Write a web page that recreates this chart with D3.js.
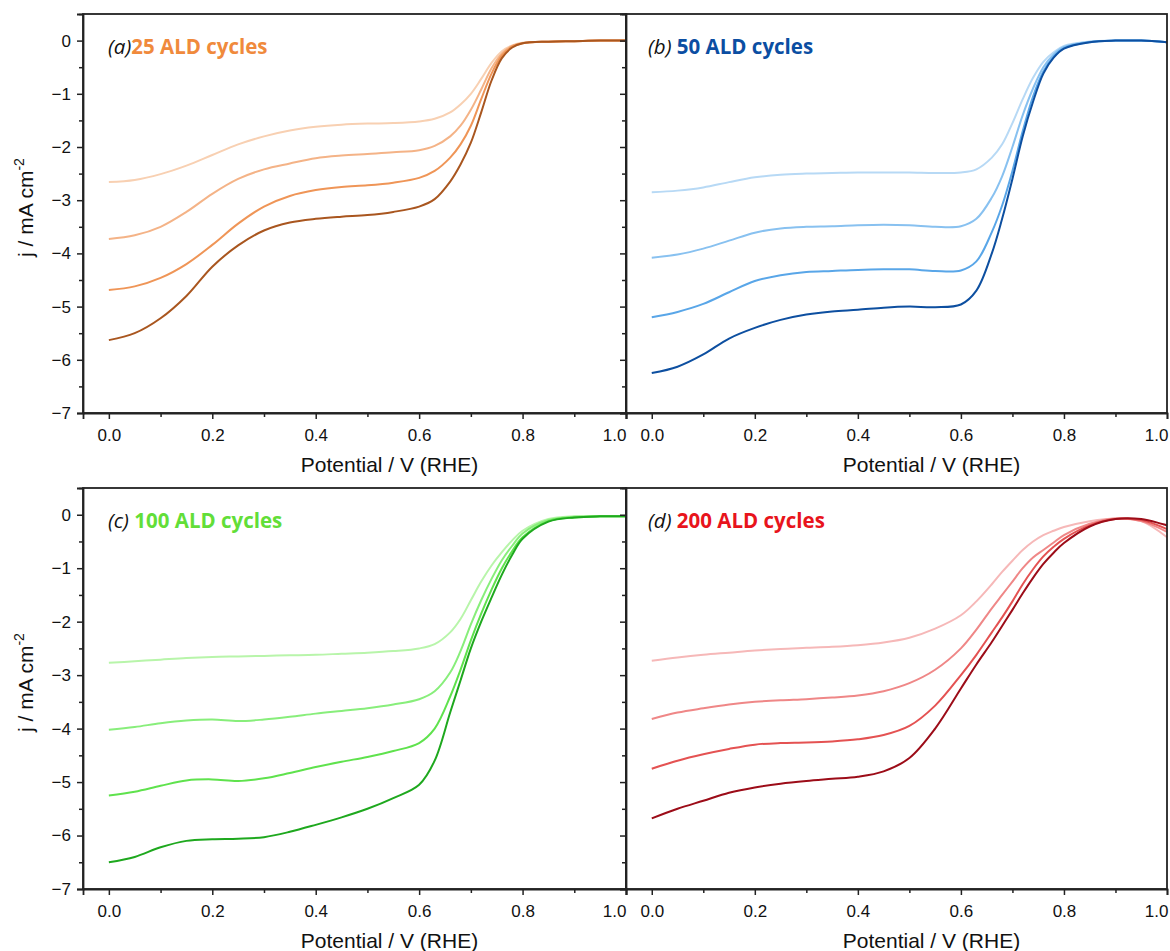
<!DOCTYPE html>
<html>
<head>
<meta charset="utf-8">
<script src="https://d3js.org/d3.v7.min.js"></script>
<style>
  body { margin: 0; background: #fff; }
  text { font-family: "Liberation Sans", Arial, sans-serif; }
  .lbl { font-family: "Open Sans", "Noto Sans", sans-serif; font-size: 20.5px; }
</style>
</head>
<body>
<script>
// potential (V vs RHE) sample points shared by all curves
var potential = [0, 0.05, 0.1, 0.15, 0.2, 0.25, 0.3, 0.35, 0.4, 0.45, 0.5, 0.55, 0.6, 0.63, 0.66, 0.68, 0.7, 0.72, 0.74, 0.76, 0.78, 0.8, 0.85, 0.9, 0.95, 1.0];

// (a) 25 ALD cycles
var s25_1 = [-2.66,-2.62,-2.51,-2.35,-2.15,-1.95,-1.8,-1.69,-1.62,-1.58,-1.56,-1.55,-1.52,-1.47,-1.35,-1.2,-1.0,-0.72,-0.42,-0.2,-0.09,-0.04,-0.02,-0.01,0,0];
var s25_2 = [-3.73,-3.66,-3.5,-3.22,-2.88,-2.6,-2.42,-2.31,-2.21,-2.16,-2.13,-2.1,-2.06,-1.98,-1.8,-1.6,-1.3,-0.92,-0.52,-0.24,-0.1,-0.05,-0.02,-0.01,0,0];
var s25_3 = [-4.69,-4.62,-4.46,-4.2,-3.84,-3.44,-3.12,-2.92,-2.81,-2.75,-2.72,-2.67,-2.58,-2.45,-2.2,-1.95,-1.6,-1.1,-0.62,-0.28,-0.11,-0.05,-0.02,-0.01,0,0];
var s25_4 = [-5.63,-5.5,-5.22,-4.8,-4.25,-3.85,-3.57,-3.42,-3.35,-3.31,-3.28,-3.22,-3.12,-2.98,-2.65,-2.33,-1.92,-1.35,-0.75,-0.33,-0.13,-0.05,-0.02,-0.01,0,0];

// (b) 50 ALD cycles
var s50_1 = [-2.85,-2.82,-2.76,-2.66,-2.57,-2.52,-2.5,-2.49,-2.48,-2.48,-2.48,-2.49,-2.48,-2.42,-2.2,-1.95,-1.55,-1.1,-0.7,-0.4,-0.22,-0.1,-0.02,0,0,-0.03];
var s50_2 = [-4.08,-4.02,-3.91,-3.76,-3.61,-3.53,-3.5,-3.49,-3.47,-3.46,-3.47,-3.5,-3.49,-3.35,-2.95,-2.55,-2.0,-1.4,-0.9,-0.5,-0.26,-0.12,-0.02,0,0,-0.03];
var s50_3 = [-5.2,-5.1,-4.95,-4.73,-4.52,-4.41,-4.35,-4.33,-4.31,-4.3,-4.3,-4.33,-4.32,-4.15,-3.6,-3.1,-2.45,-1.7,-1.05,-0.58,-0.3,-0.14,-0.03,0,0,-0.03];
var s50_4 = [-6.25,-6.13,-5.9,-5.6,-5.4,-5.25,-5.15,-5.09,-5.06,-5.02,-5.0,-5.01,-4.96,-4.7,-4.0,-3.35,-2.6,-1.8,-1.15,-0.62,-0.32,-0.15,-0.03,0,0,-0.03];

// (c) 100 ALD cycles
var s100_1 = [-2.77,-2.74,-2.71,-2.68,-2.66,-2.65,-2.64,-2.63,-2.62,-2.6,-2.58,-2.55,-2.5,-2.42,-2.2,-1.95,-1.6,-1.25,-0.95,-0.7,-0.48,-0.3,-0.08,-0.03,-0.03,-0.03];
var s100_2 = [-4.02,-3.97,-3.9,-3.85,-3.83,-3.86,-3.83,-3.78,-3.72,-3.67,-3.62,-3.55,-3.45,-3.3,-2.95,-2.55,-2.05,-1.6,-1.2,-0.85,-0.58,-0.35,-0.1,-0.04,-0.03,-0.03];
var s100_3 = [-5.25,-5.18,-5.07,-4.97,-4.95,-4.98,-4.93,-4.83,-4.72,-4.62,-4.53,-4.42,-4.27,-4.0,-3.4,-2.9,-2.35,-1.85,-1.4,-1.0,-0.68,-0.42,-0.12,-0.05,-0.03,-0.03];
var s100_4 = [-6.5,-6.4,-6.22,-6.1,-6.07,-6.06,-6.03,-5.93,-5.8,-5.66,-5.5,-5.3,-5.05,-4.6,-3.7,-3.1,-2.5,-2.0,-1.55,-1.12,-0.75,-0.45,-0.13,-0.05,-0.03,-0.03];

// (d) 200 ALD cycles
var s200_1 = [-2.73,-2.67,-2.62,-2.58,-2.54,-2.51,-2.49,-2.47,-2.44,-2.39,-2.3,-2.13,-1.88,-1.62,-1.3,-1.07,-0.86,-0.66,-0.5,-0.38,-0.3,-0.23,-0.12,-0.07,-0.12,-0.42];
var s200_2 = [-3.82,-3.7,-3.62,-3.55,-3.5,-3.47,-3.45,-3.42,-3.38,-3.3,-3.15,-2.9,-2.5,-2.15,-1.75,-1.5,-1.25,-1.0,-0.8,-0.66,-0.52,-0.38,-0.17,-0.07,-0.12,-0.32];
var s200_3 = [-4.75,-4.6,-4.48,-4.38,-4.3,-4.27,-4.26,-4.24,-4.2,-4.12,-3.95,-3.57,-3.0,-2.62,-2.2,-1.92,-1.62,-1.3,-1.02,-0.78,-0.6,-0.45,-0.2,-0.08,-0.1,-0.27];
var s200_4 = [-5.68,-5.5,-5.35,-5.2,-5.1,-5.03,-4.98,-4.94,-4.9,-4.8,-4.55,-4.0,-3.25,-2.8,-2.38,-2.08,-1.78,-1.47,-1.18,-0.92,-0.71,-0.53,-0.22,-0.08,-0.08,-0.2];

var xTicks = [0, 0.2, 0.4, 0.6, 0.8, 1.0];
var xMinor = [0.1, 0.3, 0.5, 0.7, 0.9];
var yTicks = [0, -1, -2, -3, -4, -5, -6, -7];
var yMinor = [0.5, -0.5, -1.5, -2.5, -3.5, -4.5, -5.5, -6.5];

var panels = [
  {tag: "(a)", title: "25 ALD cycles", sep: "", col: 0, row: 0, series: [s25_1, s25_2, s25_3, s25_4],
   colors: ["#f8d0b2", "#f4b387", "#ef9557", "#a9561f"], titleColor: "#f08a3c"},
  {tag: "(b)", title: "50 ALD cycles", sep: " ", col: 1, row: 0, series: [s50_1, s50_2, s50_3, s50_4],
   colors: ["#b7d9f5", "#88c1f0", "#59a6e8", "#0d4fa0"], titleColor: "#0b4ea2"},
  {tag: "(c)", title: "100 ALD cycles", sep: " ", col: 0, row: 1, series: [s100_1, s100_2, s100_3, s100_4],
   colors: ["#b8f5aa", "#88ee7b", "#5fe24d", "#1ea81e"], titleColor: "#62de38"},
  {tag: "(d)", title: "200 ALD cycles", sep: " ", col: 1, row: 1, series: [s200_1, s200_2, s200_3, s200_4],
   colors: ["#f6b8b8", "#ef8787", "#e45252", "#9c0c18"], titleColor: "#e8141c"}
];

var svg = d3.select("body").append("svg")
  .attr("width", 1170)
  .attr("height", 951);

var colX = [[83, 626], [626, 1167]];
var rowY = [[14, 413], [488, 889]];

panels.forEach(function(p) {
  var x = d3.scaleLinear().domain([-0.05, 1.0]).range(colX[p.col]);
  var y = d3.scaleLinear().domain([-7, 0.5]).range([rowY[p.row][1], rowY[p.row][0]]);
  var g = svg.append("g");

  // curves (lightest first, darkest on top)
  var line = d3.line()
    .x(function(d, i) { return x(potential[i]); })
    .y(function(d) { return y(d); })
    .curve(d3.curveCatmullRom.alpha(0.5));

  p.series.forEach(function(s, i) {
    g.append("path")
      .attr("d", line(s))
      .attr("fill", "none")
      .attr("stroke", p.colors[i])
      .attr("stroke-width", 2);
  });

  // frame
  g.append("rect")
    .attr("x", colX[p.col][0])
    .attr("y", rowY[p.row][0])
    .attr("width", colX[p.col][1] - colX[p.col][0])
    .attr("height", rowY[p.row][1] - rowY[p.row][0])
    .attr("fill", "none")
    .attr("stroke", "#222")
    .attr("stroke-width", 1.8);

  // x axis, major + minor ticks
  var xAxis = g.append("g")
    .attr("transform", "translate(0," + rowY[p.row][1] + ")")
    .call(d3.axisBottom(x).tickValues(xTicks).tickFormat(d3.format(".1f")).tickSize(6).tickPadding(10));
  g.append("g")
    .attr("transform", "translate(0," + rowY[p.row][1] + ")")
    .call(d3.axisBottom(x).tickValues(xMinor).tickFormat("").tickSize(4))
    .select(".domain").remove();

  // the last label sits left of the panel edge, as in the original
  xAxis.selectAll(".tick text")
    .filter(function(d) { return d == 1.0; })
    .attr("text-anchor", "end")
    .attr("x", p.col == 0 ? 0 : 1);

  // y axis, major + minor ticks
  var yAxis = g.append("g")
    .attr("transform", "translate(" + colX[p.col][0] + ",0)")
    .call(d3.axisLeft(y).tickValues(yTicks).tickFormat(p.col == 0 ? d3.format("d") : "").tickSize(6).tickPadding(6));
  g.append("g")
    .attr("transform", "translate(" + colX[p.col][0] + ",0)")
    .call(d3.axisLeft(y).tickValues(yMinor).tickFormat("").tickSize(4))
    .select(".domain").remove();

  [xAxis, yAxis].forEach(function(ax) {
    ax.select(".domain").attr("stroke", "#222").attr("stroke-width", 1.8);
    ax.selectAll(".tick text")
      .attr("font-family", "Liberation Sans, Arial, sans-serif")
      .attr("font-size", 17)
      .attr("fill", "#111");
  });
  g.selectAll(".tick line").attr("stroke", "#222").attr("stroke-width", 1.5);

  // x axis title
  g.append("text")
    .attr("x", (colX[p.col][0] + colX[p.col][1]) / 2 + 35)
    .attr("y", rowY[p.row][1] + 59)
    .attr("text-anchor", "middle")
    .attr("font-size", 21)
    .attr("fill", "#111")
    .text("Potential / V (RHE)");

  // y axis title
  if (p.col == 0) {
    var yt = g.append("text")
      .attr("transform", "translate(33," + ((rowY[p.row][0] + rowY[p.row][1]) / 2 - 6) + ") rotate(-90)")
      .attr("text-anchor", "middle")
      .attr("font-size", 21)
      .attr("fill", "#111");
    yt.append("tspan").text("j / mA cm");
    yt.append("tspan").attr("dy", -9).attr("font-size", 14).text("-2");
  }

  // panel label
  var lab = g.append("text")
    .attr("class", "lbl")
    .attr("x", colX[p.col][0] + (p.col == 0 ? 25 : 22))
    .attr("y", rowY[p.row][0] + 40);
  lab.append("tspan").attr("font-style", "italic").attr("fill", "#111").text(p.tag + p.sep);
  lab.append("tspan").attr("font-weight", "bold").attr("fill", p.titleColor).text(p.title);
});
</script>
</body>
</html>
